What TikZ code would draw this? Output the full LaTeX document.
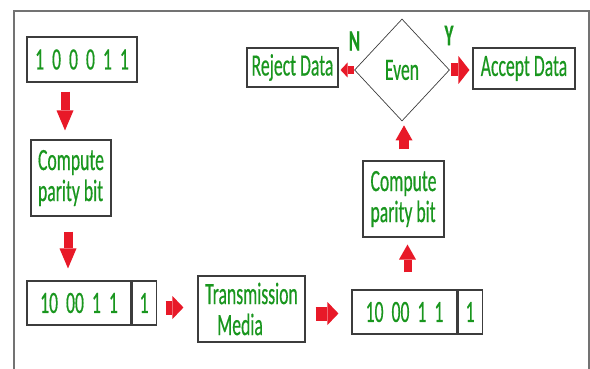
\documentclass[tikz,border=0pt]{standalone}
\usepackage{fontspec}
\usepackage{tikz}
\usetikzlibrary{arrows.meta, positioning, shapes.geometric}
\newfontfamily\boxfont[FakeStretch=0.57,FakeBold=0.4]{Carlito}
\definecolor{textgreen}{RGB}{25,150,30}
\definecolor{arrowred}{RGB}{232,25,40}
\definecolor{framegray}{RGB}{115,115,115}
\definecolor{edgegray}{RGB}{60,60,60}

\begin{document}
\begin{tikzpicture}[x=1pt,y=-1pt,
  box/.style={draw=edgegray,line width=1.1pt,inner sep=0pt,align=left,
              font=\boxfont\fontsize{31}{31}\selectfont,text=textgreen},
  decision/.style={draw=edgegray,line width=0.7pt,diamond,inner sep=0pt,
              minimum width=95pt,minimum height=102pt,
              font=\boxfont\fontsize{31}{31}\selectfont,text=textgreen},
  answer/.style={font=\boxfont\bfseries\fontsize{30}{30}\selectfont,text=textgreen},
  downblk/.style={arrowred,line width=9pt,
              -{Triangle[width=17pt,length=20pt,line width=0pt]}},
  upblk/.style={arrowred,line width=8pt,
              -{Triangle[width=17pt,length=15pt,line width=0pt]}},
  sideblk/.style={arrowred,line width=14pt,
              -{Triangle[width=23pt,length=11pt,line width=0pt]}}
]
\useasboundingbox (0,0) rectangle (590,369);

% Frame
\draw[framegray,line width=1.6pt] (14,380) -- (14,11) -- (589,11) -- (589,380);

% Sender side
\node[box,minimum width=110pt,minimum height=45pt] (src) at (82,59.5)
  {1~~0~~0~~0~~1~~1};
\node[box,minimum width=80pt,minimum height=76pt] (cpar) at (71,178)
  {Compute\\parity bit};
\node[box,minimum width=104pt,minimum height=44pt] (sentdata) at (79,303)
  {10~~00~~1~~1};
\node[box,minimum width=24pt,minimum height=44pt,right=0pt of sentdata]
  (sentbit) {1};

% Channel
\node[box,minimum width=107pt,minimum height=66pt] (media) at (251.5,309)
  {Transmission\\\hspace{12pt}Media};

% Receiver side
\node[box,minimum width=105pt,minimum height=44pt] (recvdata) at (404.5,312)
  {10~~00~~1~~1};
\node[box,minimum width=24pt,minimum height=44pt,right=0pt of recvdata]
  (recvbit) {1};
\node[box,minimum width=81pt,minimum height=76pt] (cpar2) at (403.5,199)
  {Compute\\parity bit};
\node[decision] (even) at (402,70) {Even};
\node[box,minimum width=91pt,minimum height=39pt] (reject) at (292.5,67.5)
  {Reject Data};
\node[box,minimum width=102pt,minimum height=41pt] (accept) at (524,68.5)
  {Accept Data};
\node[answer] (no) at (354.5,41) {N};
\node[answer] (yes) at (449,35.5) {Y};

% Block arrows
\draw[downblk,shorten <=9pt,shorten >=9pt] (src.south -| 65,0) -- (cpar.north -| 65,0);
\draw[downblk,shorten <=15pt,shorten >=12pt] (cpar.south -| 68,0) -- (sentdata.north -| 68,0);
\draw[sideblk,shorten <=9pt,shorten >=14pt] (sentbit.east |- 0,307.5) -- (media.west |- 0,307.5);
\draw[sideblk,shorten <=10pt,shorten >=13pt] (media.east |- 0,313.5) -- (recvdata.west |- 0,313.5);
\draw[upblk,shorten <=17pt,shorten >=7pt] (recvdata.north -| 407.5,0) -- (cpar2.south -| 407.5,0);
\draw[upblk,line width=10pt,shorten <=11pt,shorten >=4pt] (cpar2.north -| 404,0) -- (even.south -| 404,0);
\draw[arrowred,line width=8pt,-{Triangle[width=15pt,length=7pt,line width=0pt]},shorten >=2pt]
  (even.west) -- (reject.east |- even.west);
\draw[arrowred,line width=13pt,-{Triangle[width=28pt,length=11pt,line width=0pt]},shorten <=1pt,shorten >=3pt]
  (even.east) -- (accept.west |- even.east);

\end{tikzpicture}
\end{document}
